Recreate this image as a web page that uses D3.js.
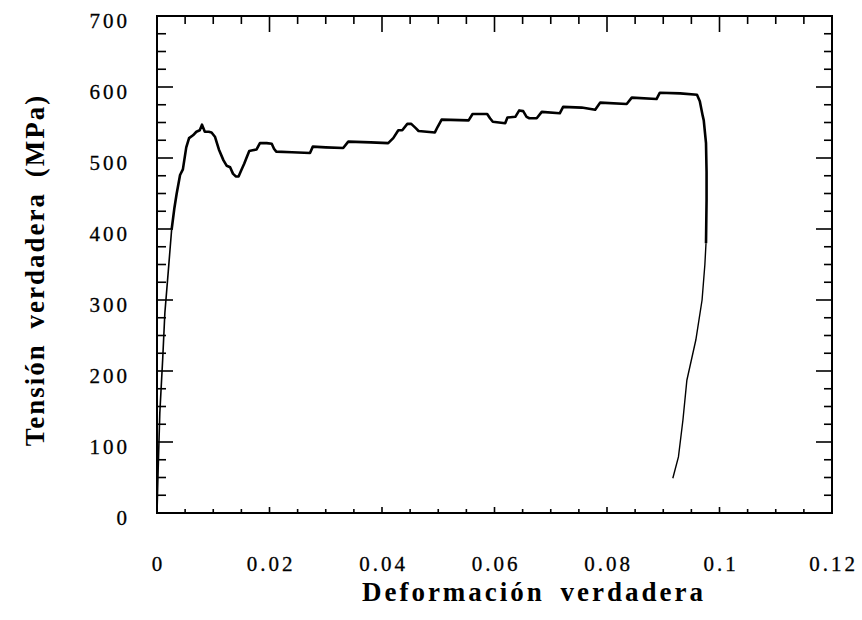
<!DOCTYPE html>
<html>
<head>
<meta charset="utf-8">
<script src="https://cdn.jsdelivr.net/npm/d3@7"></script>
<style>
  body { margin: 0; background: #fff; }
  svg { display: block; }
  .tick-label { font-family: "Liberation Serif", "Times New Roman", serif; font-size: 21px; letter-spacing: 3px; fill: #000; stroke: #000; stroke-width: 0.3px; }
  .axis-title { font-family: "Liberation Serif", "Times New Roman", serif; font-size: 27px; font-weight: bold; letter-spacing: 3px; word-spacing: 6px; fill: #000; }
</style>
</head>
<body>
<svg id="chart" width="862" height="620"></svg>
<script>
// tick values
const xTicks = [0, 0.02, 0.04, 0.06, 0.08, 0.1, 0.12];
const yTicks = [0, 100, 200, 300, 400, 500, 600, 700];

// elastic part (thin line)
const elasticStrain = [0.0000, 0.0002, 0.0005, 0.0010, 0.0014, 0.0020, 0.0026];
const elasticStress = [0, 60, 141, 215, 282, 340, 399];

// plastic part (thick line)
const plasticStrain = [0.0026, 0.0031, 0.0035, 0.0041, 0.0046, 0.0052, 0.0057, 0.0064, 0.0070, 0.0076,
  0.0080, 0.0085, 0.0092, 0.0097, 0.0103, 0.0110, 0.0118, 0.0124, 0.0130, 0.0135,
  0.0140, 0.0145, 0.0150, 0.0155, 0.0159, 0.0164, 0.0170, 0.0177, 0.0183, 0.0195,
  0.0204, 0.0208, 0.0212, 0.0240, 0.0272, 0.0277, 0.0300, 0.0331, 0.0340, 0.0380,
  0.0411, 0.0420, 0.0429, 0.0436, 0.0445, 0.0452, 0.0460, 0.0465, 0.0494, 0.0499,
  0.0506, 0.0554, 0.0561, 0.0587, 0.0592, 0.0597, 0.0619, 0.0623, 0.0637, 0.0644,
  0.0651, 0.0657, 0.0662, 0.0675, 0.0684, 0.0716, 0.0722, 0.0755, 0.0779, 0.0788,
  0.0835, 0.0844, 0.0888, 0.0894, 0.0930, 0.0960, 0.0965, 0.0970, 0.0972, 0.0976,
  0.0977, 0.0977, 0.0976];
const plasticStress = [399, 430, 450, 476, 484, 515, 528, 532, 537, 539,
  547, 537, 537, 536, 530, 512, 497, 489, 487, 478,
  474, 474, 483, 492, 500, 510, 511, 512, 521, 521,
  520, 513, 509, 508, 507, 516, 515, 514, 523, 522,
  521, 528, 539, 539, 548, 548, 542, 538, 536, 544,
  554, 553, 562, 562, 556, 551, 549, 557, 558, 567,
  566, 558, 556, 556, 565, 563, 572, 571, 568, 578,
  576, 585, 583, 592, 591, 589, 580, 560, 553, 521,
  480, 441, 380];

// unloading / fracture part (thin line)
const unloadStrain = [0.0976, 0.0974, 0.0969, 0.0958, 0.0942, 0.0935, 0.0927, 0.0917];
const unloadStress = [380, 350, 300, 244, 187, 131, 79, 49];

var svg = d3.select('#chart');

// plot box (window.top is reserved, so use a prefix)
var pLeft = 157, pRight = 832, pTop = 16, pBottom = 513;

var x = d3.scaleLinear().domain([0, 0.12]).range([pLeft, pRight]);
var y = d3.scaleLinear().domain([0, 700]).range([pBottom, pTop]);

// minor ticks every quarter step
var xMinor = d3.range(0, 0.12 + 1e-9, 0.005);
var yMinor = d3.range(0, 700 + 1e-9, 25);

function isMajorX(v) { return Math.abs(v / 0.02 - Math.round(v / 0.02)) < 1e-6; }
function isMajorY(v) { return v % 100 === 0; }

var ticks = svg.append('g').attr('stroke', '#000').attr('stroke-width', 1.6);

// bottom ticks (short)
ticks.selectAll('.tb').data(xMinor).enter().append('line').
  attr('x1', d => x(d)).attr('x2', d => x(d)).
  attr('y1', pBottom).attr('y2', d => pBottom - (isMajorX(d) ? 6 : 4));
// top ticks
ticks.selectAll('.tt').data(xMinor).enter().append('line').
  attr('x1', d => x(d)).attr('x2', d => x(d)).
  attr('y1', pTop).attr('y2', d => pTop + (isMajorX(d) ? 16 : 8));
// left ticks
ticks.selectAll('.tl').data(yMinor).enter().append('line').
  attr('y1', d => y(d)).attr('y2', d => y(d)).
  attr('x1', pLeft).attr('x2', d => pLeft + (isMajorY(d) ? 16 : 9));
// right ticks
ticks.selectAll('.tr').data(yMinor).enter().append('line').
  attr('y1', d => y(d)).attr('y2', d => y(d)).
  attr('x1', pRight).attr('x2', d => pRight - (isMajorY(d) ? 16 : 8));

// frame
svg.append('rect').
  attr('x', pLeft).attr('y', pTop).
  attr('width', pRight - pLeft).attr('height', pBottom - pTop).
  attr('fill', 'none').attr('stroke', '#000').attr('stroke-width', 2);

// tick labels
svg.selectAll('.xl').data(xTicks).enter().append('text').
  attr('class', 'tick-label').
  attr('x', d => x(d) + 1.5).
  attr('y', 571).
  attr('text-anchor', 'middle').
  text(d => d3.format('')(d));

svg.selectAll('.yl').data(yTicks).enter().append('text').
  attr('class', 'tick-label').
  attr('x', 130).
  attr('y', d => y(d) + 12).
  attr('text-anchor', 'end').
  text(d => d);

// axis titles
svg.append('text').
  attr('class', 'axis-title').
  attr('x', 534).attr('y', 601).
  attr('text-anchor', 'middle').
  text('Deformación verdadera');

svg.append('text').
  attr('class', 'axis-title').
  attr('transform', 'translate(44,270) rotate(-90)').
  attr('text-anchor', 'middle').
  style('letter-spacing', '2px').
  text('Tensión verdadera (MPa)');

// curve
var line = d3.line().x(d => x(d[0])).y(d => y(d[1]));

function pairs(xs, ys) { return xs.map((v, i) => [v, ys[i]]); }

svg.append('path').
  attr('d', line(pairs(elasticStrain, elasticStress))).
  attr('fill', 'none').attr('stroke', '#000').attr('stroke-width', 1.6);

svg.append('path').
  attr('d', line(pairs(plasticStrain, plasticStress))).
  attr('fill', 'none').attr('stroke', '#000').attr('stroke-width', 2.6).
  attr('stroke-linejoin', 'round');

svg.append('path').
  attr('d', line(pairs(unloadStrain, unloadStress))).
  attr('fill', 'none').attr('stroke', '#000').attr('stroke-width', 1.4);
</script>
</body>
</html>
